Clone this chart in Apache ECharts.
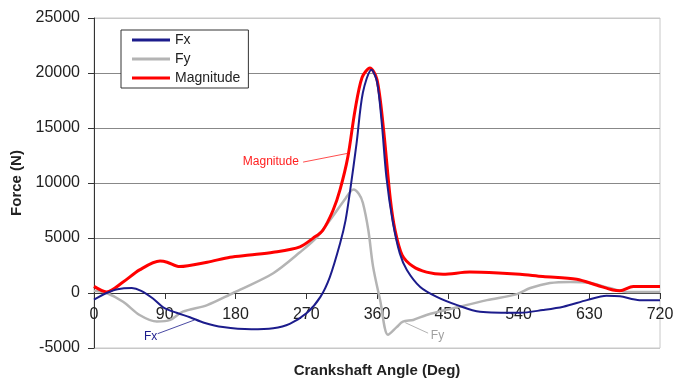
<!DOCTYPE html>
<html>
<head>
<meta charset="utf-8">
<script src="https://cdn.jsdelivr.net/npm/echarts@6/dist/echarts.min.js"></script>
<style>
	html, body { margin: 0; padding: 0; background: #fff; }
	#main { width: 674px; height: 381px; }
</style>
</head>
<body>
<div id="main"></div>
<script>
	// 数据 [曲轴角度, 力]
	var fxData = [[0,-600],[16,0],[30,350],[48,450],[60,200],[75,-500],[88,-1300],[105,-1800],[122,-2200],[140,-2700],[164,-3100],[200,-3300],[228,-3200],[249,-2800],[271,-1800],[288,-350],[300,1450],[313,4500],[320,6600],[326,9400],[334,13600],[342,18200],[353,20300],[360,19200],[366,15500],[372,10500],[380,6500],[389,3600],[398,2100],[415,550],[436,-350],[462,-1100],[491,-1700],[542,-1800],[571,-1550],[597,-1250],[627,-650],[652,-250],[669,-300],[694,-650],[720,-650]];
	var fyData = [[0,200],[16,0],[37,-800],[58,-2000],[80,-2600],[97,-2450],[113,-1700],[144,-1100],[177,0],[186,300],[228,1800],[262,3700],[284,5100],[304,7000],[320,8600],[330,9400],[337,9000],[342,8200],[349,5700],[355,2400],[364,-650],[374,-3800],[385,-3100],[393,-2600],[406,-2450],[423,-2000],[462,-1300],[500,-650],[538,-100],[555,450],[580,900],[606,1000],[631,900],[656,450],[678,100],[720,100]];
	var magData = [[0,600],[16,100],[37,1000],[58,2100],[84,2900],[93,2800],[109,2400],[144,2800],[173,3250],[198,3450],[228,3700],[262,4200],[279,5000],[291,5700],[304,7500],[313,9400],[323,12400],[332,16600],[341,19600],[351,20450],[360,19400],[368,15100],[377,8500],[383,5700],[392,3450],[406,2400],[423,1900],[444,1700],[478,1900],[520,1800],[542,1700],[571,1500],[614,1250],[640,700],[660,270],[669,200],[686,600],[720,600]];
	var xTicks = [0, 90, 180, 270, 360, 450, 540, 630, 720];
	var yTicks = [-5000, 0, 5000, 10000, 15000, 20000, 25000];

	var font = 'Liberation Sans, Arial, sans-serif';
	var myChart = echarts.init(document.getElementById('main'));

	function note(text, color, at, from, to) {
		return {
			markPoint: {
				silent: true,
				symbol: 'circle',
				symbolSize: 1,
				itemStyle: { color: 'rgba(0,0,0,0)' },
				label: { show: true, position: 'inside', formatter: text, color: color, fontSize: 12, fontFamily: font },
				data: [{ coord: at }]
			},
			markLine: {
				silent: true,
				symbol: ['none', 'none'],
				label: { show: false },
				lineStyle: { color: color, width: 0.8, type: 'solid' },
				data: [[{ coord: from }, { coord: to }]]
			}
		};
	}

	// 绘图区高度330px, 每5000为55px; x轴放在0线上
	var plotH = 330;
	var zeroShift = plotH * (0 - yTicks[0]) / (yTicks[yTicks.length - 1] - yTicks[0]);

	var option = {
		animation: false,
		grid: {
			left: 94, right: 14, top: 18, bottom: 33,
			containLabel: false,
			outerBoundsMode: 'none',
			show: true, borderColor: '#c8c8c8', borderWidth: 1
		},
		legend: {
			left: 121, top: 30,
			orient: 'vertical',
			padding: [3, 8, 3, 11],
			itemGap: 5,
			itemWidth: 38,
			itemHeight: 3,
			icon: 'rect',
			borderColor: '#333',
			borderWidth: 1,
			backgroundColor: '#fff',
			textStyle: { fontSize: 14, color: '#222', fontFamily: font },
			data: ['Fx', 'Fy', 'Magnitude']
		},
		xAxis: {
			type: 'value',
			min: xTicks[0], max: xTicks[xTicks.length - 1], interval: 90,
			offset: -zeroShift,
			name: 'Crankshaft Angle (Deg)',
			nameLocation: 'middle',
			nameGap: 70,
			nameTextStyle: { fontSize: 15, fontWeight: 'bold', color: '#222', fontFamily: font },
			axisLine: { onZero: false, lineStyle: { color: '#333', width: 1 } },
			axisTick: { length: 6, lineStyle: { color: '#333' } },
			axisLabel: { fontSize: 16, color: '#222', margin: 14, fontFamily: font },
			splitLine: { show: false }
		},
		yAxis: {
			type: 'value',
			min: yTicks[0], max: yTicks[yTicks.length - 1], interval: 5000,
			name: 'Force (N)',
			nameLocation: 'middle',
			nameGap: 70,
			nameTextStyle: { fontSize: 15, fontWeight: 'bold', color: '#222', fontFamily: font },
			axisLine: { show: true, onZero: false, lineStyle: { color: '#333', width: 1 } },
			axisTick: { show: true, length: 6, lineStyle: { color: '#333' } },
			axisLabel: { fontSize: 16, color: '#222', margin: 14, fontFamily: font, formatter: function (v) { return String(v); } },
			splitLine: { show: true, lineStyle: { color: ['#c8c8c8', '#333', '#888', '#888', '#888', '#888', '#c8c8c8'], width: 1 } }
		},
		series: [
			Object.assign({
				name: 'Fx', type: 'line', data: fxData, smooth: 0.3, showSymbol: false, symbol: 'none',
				lineStyle: { color: '#1c1c8c', width: 2 }, itemStyle: { color: '#1c1c8c' }, z: 4
			}, note('Fx', '#1c1c8c', [72, -4000], [81, -3700], [128, -2450])),
			Object.assign({
				name: 'Fy', type: 'line', data: fyData, smooth: 0.3, showSymbol: false, symbol: 'none',
				lineStyle: { color: '#b4b4b4', width: 2.5 }, itemStyle: { color: '#b4b4b4' }, z: 2
			}, note('Fy', '#a0a0a0', [437, -3900], [396, -2700], [425, -3650])),
			Object.assign({
				name: 'Magnitude', type: 'line', data: magData, smooth: 0.3, showSymbol: false, symbol: 'none',
				lineStyle: { color: '#ff0000', width: 3 }, itemStyle: { color: '#ff0000' }, z: 3
			}, note('Magnitude', '#ff2020', [225, 11900], [266, 11900], [323, 12700]))
		]
	};

	myChart.setOption(option);
</script>
</body>
</html>
